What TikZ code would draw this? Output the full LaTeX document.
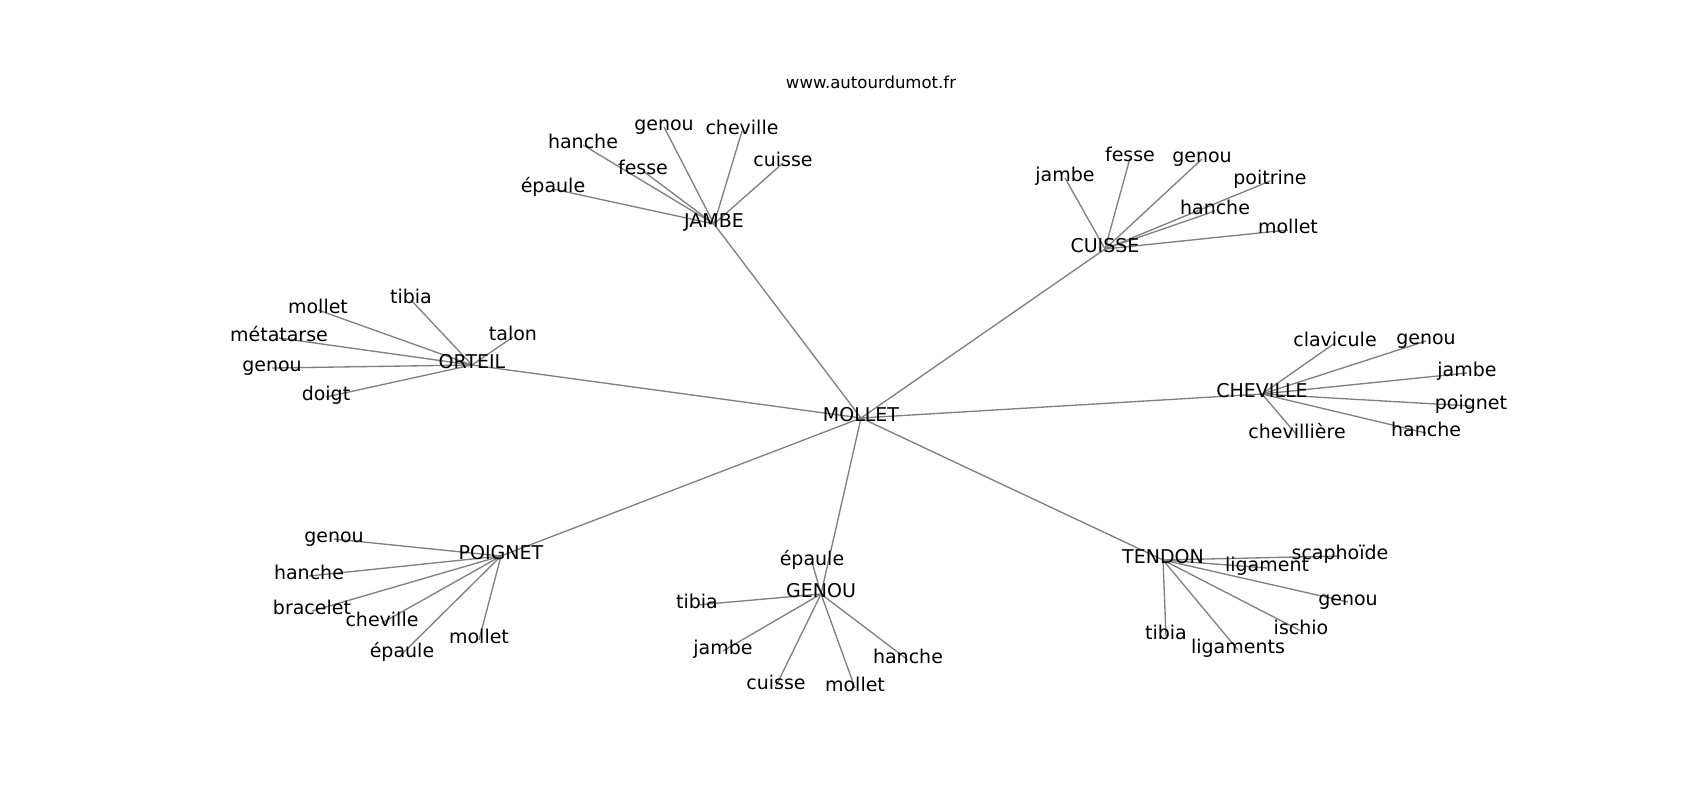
\documentclass[tikz,border=0pt]{standalone}
\usepackage{fontspec}
\setmainfont{DejaVu Sans}
\usetikzlibrary{backgrounds}
\definecolor{edgegray}{HTML}{808080}
\tikzset{
  lbl/.style={inner sep=0pt, outer sep=0pt, text height=0.76em, text depth=0.208em, anchor=center, font=\fontsize{14.25}{16}\selectfont},
  edge/.style={draw=edgegray, line width=1pt},
  ttl/.style={inner sep=0pt, anchor=base, font=\fontsize{12.4}{14}\selectfont}
}
\begin{document}
\begin{tikzpicture}[x=0.75pt, y=-0.75pt]
\useasboundingbox (0,0) rectangle (1700,800);
\node[ttl] (title) at (871,88) {www.autourdumot.fr};
\begin{scope}[shift={(0,4)}]
% hubs
\node[lbl] (mollet) at (861,414) {MOLLET};
\node[lbl] (jambe) at (714,220) {JAMBE};
\node[lbl] (cuisse) at (1105,245) {CUISSE};
\node[lbl] (orteil) at (472,361) {ORTEIL};
\node[lbl] (cheville) at (1262,390) {CHEVILLE};
\node[lbl] (poignet) at (501,552) {POIGNET};
\node[lbl] (genou) at (821,590) {GENOU};
\node[lbl] (tendon) at (1163,556) {TENDON};
% JAMBE leaves
\node[lbl] (ja1) at (664,123) {genou};
\node[lbl] (ja2) at (742,127) {cheville};
\node[lbl] (ja3) at (583,141) {hanche};
\node[lbl] (ja4) at (643,167) {fesse};
\node[lbl] (ja5) at (783,159) {cuisse};
\node[lbl] (ja6) at (553,185) {épaule};
% CUISSE leaves
\node[lbl] (cu1) at (1065,174) {jambe};
\node[lbl] (cu2) at (1130,154) {fesse};
\node[lbl] (cu3) at (1202,155) {genou};
\node[lbl] (cu4) at (1270,177) {poitrine};
\node[lbl] (cu5) at (1215,207) {hanche};
\node[lbl] (cu6) at (1288,226) {mollet};
% ORTEIL leaves
\node[lbl] (or1) at (411,296) {tibia};
\node[lbl] (or2) at (318,306) {mollet};
\node[lbl] (or3) at (279,334) {métatarse};
\node[lbl] (or4) at (513,333) {talon};
\node[lbl] (or5) at (272,364) {genou};
\node[lbl] (or6) at (326,393) {doigt};
% CHEVILLE leaves
\node[lbl] (ch1) at (1335,339) {clavicule};
\node[lbl] (ch2) at (1426,337) {genou};
\node[lbl] (ch3) at (1467,369) {jambe};
\node[lbl] (ch4) at (1471,402) {poignet};
\node[lbl] (ch5) at (1426,429) {hanche};
\node[lbl] (ch6) at (1297,431) {chevillière};
% POIGNET leaves
\node[lbl] (po1) at (334,535) {genou};
\node[lbl] (po2) at (309,572) {hanche};
\node[lbl] (po3) at (312,607) {bracelet};
\node[lbl] (po4) at (382,619) {cheville};
\node[lbl] (po5) at (402,650) {épaule};
\node[lbl] (po6) at (479,636) {mollet};
% GENOU leaves
\node[lbl] (ge1) at (812,558) {épaule};
\node[lbl] (ge2) at (697,601) {tibia};
\node[lbl] (ge3) at (723,647) {jambe};
\node[lbl] (ge4) at (776,682) {cuisse};
\node[lbl] (ge5) at (855,684) {mollet};
\node[lbl] (ge6) at (908,656) {hanche};
% TENDON leaves
\node[lbl] (te1) at (1340,552) {scaphoïde};
\node[lbl] (te2) at (1267,564) {ligament};
\node[lbl] (te3) at (1348,598) {genou};
\node[lbl] (te4) at (1301,627) {ischio};
\node[lbl] (te5) at (1166,632) {tibia};
\node[lbl] (te6) at (1238,646) {ligaments};
\end{scope}
\begin{pgfonlayer}{background}
\foreach \h in {jambe,cuisse,orteil,cheville,poignet,genou,tendon}
  \draw[edge] (mollet.center) -- (\h.center);
\foreach \n in {ja1,ja2,ja3,ja4,ja5,ja6} \draw[edge] (jambe.center) -- (\n.center);
\foreach \n in {cu1,cu2,cu3,cu4,cu5,cu6} \draw[edge] (cuisse.center) -- (\n.center);
\foreach \n in {or1,or2,or3,or4,or5,or6} \draw[edge] (orteil.center) -- (\n.center);
\foreach \n in {ch1,ch2,ch3,ch4,ch5,ch6} \draw[edge] (cheville.center) -- (\n.center);
\foreach \n in {po1,po2,po3,po4,po5,po6} \draw[edge] (poignet.center) -- (\n.center);
\foreach \n in {ge1,ge2,ge3,ge4,ge5,ge6} \draw[edge] (genou.center) -- (\n.center);
\foreach \n in {te1,te2,te3,te4,te5,te6} \draw[edge] (tendon.center) -- (\n.center);
\end{pgfonlayer}
\end{tikzpicture}
\end{document}
